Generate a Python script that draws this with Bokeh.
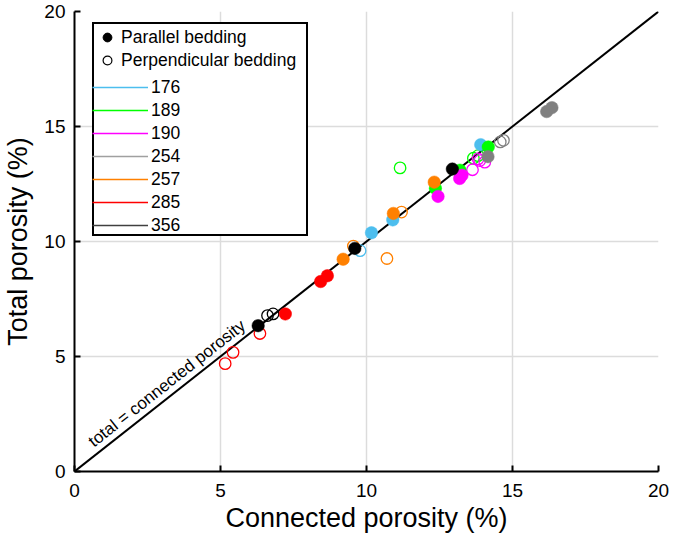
import math
from bokeh.plotting import figure
from bokeh.models import Range1d, FixedTicker, Legend, LegendItem, Label
from bokeh.embed import file_html
from bokeh.resources import INLINE

FONT = "Liberation Sans"
NAN = float("nan")

# ---------------- data ----------------
samples = ["176", "189", "190", "254", "257", "285", "356"]
colors = ["#4DBEEE", "#00FF00", "#FF00FF", "#808080", "#FF8000", "#FF0000", "#000000"]
legend_colors = ["#4DBEEE", "#00FF00", "#FF00FF", "#A0A0A0", "#FF8000", "#FF0000", "#404040"]

# parallel bedding (filled): connected porosity, total porosity (%)
par_conn_176 = [10.17, 10.90, 13.91]
par_tot_176 = [10.38, 10.94, 14.21]
par_conn_189 = [12.36, 13.20, 14.17]
par_tot_189 = [12.31, 13.10, 14.11]
par_conn_190 = [12.45, 13.19, 13.27]
par_tot_190 = [11.96, 12.74, 12.88]
par_conn_254 = [14.16, 16.17, 16.35]
par_tot_254 = [13.69, 15.65, 15.82]
par_conn_257 = [9.20, 10.92, 12.32]
par_tot_257 = [9.23, 11.22, 12.58]
par_conn_285 = [7.22, 8.43, 8.66]
par_tot_285 = [6.85, 8.26, 8.51]
par_conn_356 = [6.29, 9.60, 12.94]
par_tot_356 = [6.34, 9.70, 13.15]

# perpendicular bedding (open)
perp_conn_176 = [9.78]
perp_tot_176 = [9.60]
perp_conn_189 = [11.15, 13.66, 13.82]
perp_tot_189 = [13.20, 13.62, 13.73]
perp_conn_190 = [13.63, 13.88, 14.05, 13.82]
perp_tot_190 = [13.12, 13.52, 13.45, 13.59]
perp_conn_254 = [14.58, 14.69]
perp_tot_254 = [14.33, 14.40]
perp_conn_257 = [9.55, 10.70, 11.20]
perp_tot_257 = [9.80, 9.26, 11.28]
perp_conn_285 = [5.16, 5.43, 6.35]
perp_tot_285 = [4.69, 5.18, 6.00]
perp_conn_356 = [6.61, 6.80]
perp_tot_356 = [6.78, 6.85]

par_conn = [par_conn_176, par_conn_189, par_conn_190, par_conn_254, par_conn_257, par_conn_285, par_conn_356]
par_tot = [par_tot_176, par_tot_189, par_tot_190, par_tot_254, par_tot_257, par_tot_285, par_tot_356]
perp_conn = [perp_conn_176, perp_conn_189, perp_conn_190, perp_conn_254, perp_conn_257, perp_conn_285, perp_conn_356]
perp_tot = [perp_tot_176, perp_tot_189, perp_tot_190, perp_tot_254, perp_tot_257, perp_tot_285, perp_tot_356]

identity = [0, 20]
ticks = [0, 5, 10, 15, 20]

# ---------------- figure ----------------
W, H = 669, 539
LEFT, RIGHT, TOP, BOTTOM = 73, 11, 11, 68
frame_w = W - LEFT - RIGHT
frame_h = H - TOP - BOTTOM

p = figure(width=W, height=H, output_backend="svg", toolbar_location=None,
           x_range=Range1d(0, 20), y_range=Range1d(0, 20),
           min_border_left=LEFT, min_border_right=RIGHT,
           min_border_top=TOP, min_border_bottom=BOTTOM,
           x_axis_label="Connected porosity (%)", y_axis_label="Total porosity (%)")
p.outline_line_color = None
p.background_fill_color = "white"

for ax in (p.xaxis[0], p.yaxis[0]):
    ax.ticker = FixedTicker(ticks=ticks)
    ax.axis_line_width = 2
    ax.axis_line_color = "black"
    ax.major_tick_line_width = 2
    ax.major_tick_line_color = "black"
    ax.major_tick_in = 6
    ax.major_tick_out = 0
    ax.minor_tick_line_color = None
    ax.major_label_text_font = FONT
    ax.major_label_text_font_size = "19px"
    ax.major_label_text_color = "black"
    ax.axis_label_text_font = FONT
    ax.axis_label_text_font_size = "27px"
    ax.axis_label_text_font_style = "normal"
    ax.axis_label_text_color = "black"
p.xaxis.major_label_standoff = 12
p.xaxis.axis_label_standoff = 3
p.yaxis.major_label_standoff = 9
p.yaxis.axis_label_standoff = 8

for g in (p.xgrid[0], p.ygrid[0]):
    g.ticker = FixedTicker(ticks=ticks)
    g.grid_line_color = "#DCDCDC"
    g.grid_line_width = 1.5

# identity line
p.line(identity, identity, line_color="black", line_width=2)

# data points
for i, s in enumerate(samples):
    p.scatter(perp_conn[i], perp_tot[i], marker="circle", size=11.5,
              fill_color=None, line_color=colors[i], line_width=1.3)
for i, s in enumerate(samples):
    p.scatter(par_conn[i], par_tot[i], marker="circle", size=12.5,
              fill_color=colors[i], line_color=colors[i], line_width=0.5)

# label along the identity line
angle = math.atan2(frame_h, frame_w)
p.add_layout(Label(x=0.55, y=1.22, text="total = connected porosity", angle=angle,
                   text_font=FONT, text_font_size="17px", text_color="black",
                   text_baseline="alphabetic", text_align="left"))

# ---------------- legends ----------------
r_par = p.scatter([NAN], [NAN], marker="circle", size=12, fill_color="black", line_color="black")
r_perp = p.scatter([NAN], [NAN], marker="circle", size=11, fill_color=None, line_color="black", line_width=1.2)
r_blank = p.line([NAN], [NAN], line_alpha=0)
r_lines = [p.line([NAN], [NAN], line_color=c, line_width=1.6, line_alpha=1.0) for c in legend_colors]

common = dict(label_text_font=FONT, label_text_font_size="17.5px", label_text_color="black",
              glyph_height=22, label_height=20, spacing=1, padding=2, margin=0)

leg_h = 210
loc = (18, frame_h - 15 - leg_h)

items_a = [LegendItem(label="Parallel bedding", renderers=[r_par]),
           LegendItem(label="Perpendicular bedding", renderers=[r_perp])]
items_a += [LegendItem(label=" ", renderers=[r_blank]) for _ in samples]
leg_a = Legend(items=items_a, location=loc, glyph_width=22, label_standoff=3,
               label_width=183, border_line_color="black", border_line_width=2,
               border_line_alpha=1.0,
               background_fill_color="white", background_fill_alpha=1.0, **common)

items_b = [LegendItem(label=" ", renderers=[r_blank]) for _ in range(2)]
items_b += [LegendItem(label=s, renderers=[r]) for s, r in zip(samples, r_lines)]
leg_b = Legend(items=items_b, location=loc, glyph_width=56, label_standoff=3,
               label_width=183, border_line_color=None, background_fill_alpha=0.0, **common)

p.add_layout(leg_a)
p.add_layout(leg_b)

open("out.html", "w").write(file_html(p, INLINE))
